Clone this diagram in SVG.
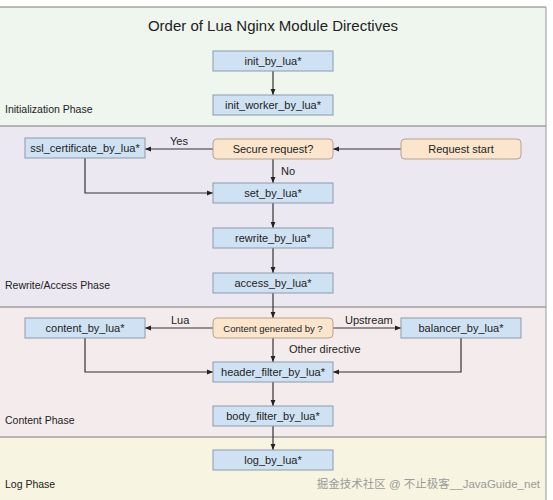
<svg xmlns="http://www.w3.org/2000/svg" width="553" height="500" viewBox="0 0 553 500">
<style>
text{font-family:"Liberation Sans",Arial,sans-serif;fill:#222}
.title{font-size:15px;text-anchor:middle}
.phase{font-size:10.5px}
.lbl{font-size:11px;text-anchor:middle}
.elbl{font-size:11px}
.box rect{fill:#cfe2f3;stroke:#8c9aab;stroke-width:1}
.dec rect{fill:#fce5cd;stroke:#b5a48e;stroke-width:1}
.conn{fill:none;stroke:#333;stroke-width:1.2}
.band{stroke:none}
</style>
<defs>
<marker id="ah" viewBox="0 0 10 10" refX="10" refY="5" markerWidth="6" markerHeight="6" orient="auto" markerUnits="userSpaceOnUse">
<path d="M0,1 L10,5 L0,9 z" fill="#222"/>
</marker>
</defs>
<rect x="0" y="0" width="553" height="500" fill="#ffffff"/>
<g id="bands">
<rect class="band" x="0" y="7" width="546" height="119" fill="#eef6ee"/>
<rect class="band" x="0" y="126" width="546" height="181" fill="#ece8f1"/>
<rect class="band" x="0" y="307" width="546" height="130" fill="#f4ecec"/>
<rect class="band" x="0" y="437" width="546" height="63" fill="#f7f4e2"/>
<g stroke="#7a7a7a" stroke-width="1.2">
<line x1="0" y1="7" x2="546" y2="7"/>
<line x1="0" y1="126" x2="546" y2="126"/>
<line x1="0" y1="307" x2="546" y2="307"/>
<line x1="0" y1="437" x2="546" y2="437"/>
</g>
<line x1="546" y1="7" x2="546" y2="500" stroke="#9a9a9a" stroke-width="1"/>
<text class="phase" x="5" y="113">Initialization Phase</text>
<text class="phase" x="5" y="289">Rewrite/Access Phase</text>
<text class="phase" x="5" y="424">Content Phase</text>
<text class="phase" x="5" y="488">Log Phase</text>
</g>
<text class="title" x="273" y="31">Order of Lua Nginx Module Directives</text>
<g id="connectors">
<path class="conn" d="M273,71 V95" marker-end="url(#ah)"/>
<path class="conn" d="M401,149 H333" marker-end="url(#ah)"/>
<path class="conn" d="M213,149 H145" marker-end="url(#ah)"/>
<path class="conn" d="M273,159 V183" marker-end="url(#ah)"/>
<path class="conn" d="M85,158 V193 H213" marker-end="url(#ah)"/>
<path class="conn" d="M273,203 V228" marker-end="url(#ah)"/>
<path class="conn" d="M273,248 V273" marker-end="url(#ah)"/>
<path class="conn" d="M273,293 V318" marker-end="url(#ah)"/>
<path class="conn" d="M213,328 H145" marker-end="url(#ah)"/>
<path class="conn" d="M333,328 H401" marker-end="url(#ah)"/>
<path class="conn" d="M273,338 V362" marker-end="url(#ah)"/>
<path class="conn" d="M85,338 V372 H213" marker-end="url(#ah)"/>
<path class="conn" d="M461,338 V372 H333" marker-end="url(#ah)"/>
<path class="conn" d="M273,382 V406" marker-end="url(#ah)"/>
<path class="conn" d="M273,426 V450" marker-end="url(#ah)"/>
<text class="elbl" x="170" y="145">Yes</text>
<text class="elbl" x="281" y="175">No</text>
<text class="elbl" x="171" y="324">Lua</text>
<text class="elbl" x="345" y="324">Upstream</text>
<text class="elbl" x="289" y="353">Other directive</text>
</g>
<g id="n_init" class="box"><rect x="213" y="51" width="120" height="20"/><text class="lbl" x="273" y="65">init_by_lua*</text></g>
<g id="n_init_worker" class="box"><rect x="213" y="95" width="120" height="20"/><text class="lbl" x="273" y="109">init_worker_by_lua*</text></g>
<g id="n_ssl" class="box"><rect x="25" y="138" width="120" height="20"/><text class="lbl" x="85" y="152">ssl_certificate_by_lua*</text></g>
<g id="n_secure" class="dec"><rect x="213" y="139" width="120" height="20" rx="4"/><text class="lbl" x="273" y="153">Secure request?</text></g>
<g id="n_start" class="dec"><rect x="401" y="139" width="120" height="20" rx="4"/><text class="lbl" x="461" y="153">Request start</text></g>
<g id="n_set" class="box"><rect x="213" y="183" width="120" height="20"/><text class="lbl" x="273" y="197">set_by_lua*</text></g>
<g id="n_rewrite" class="box"><rect x="213" y="228" width="120" height="20"/><text class="lbl" x="273" y="242">rewrite_by_lua*</text></g>
<g id="n_access" class="box"><rect x="213" y="273" width="120" height="20"/><text class="lbl" x="273" y="287">access_by_lua*</text></g>
<g id="n_content" class="box"><rect x="25" y="318" width="120" height="20"/><text class="lbl" x="85" y="332">content_by_lua*</text></g>
<g id="n_cgen" class="dec"><rect x="213" y="318" width="120" height="20" rx="4"/><text class="lbl" x="273" y="332" style="font-size:9.5px">Content generated by ?</text></g>
<g id="n_balancer" class="box"><rect x="401" y="318" width="120" height="20"/><text class="lbl" x="461" y="332">balancer_by_lua*</text></g>
<g id="n_header" class="box"><rect x="213" y="362" width="120" height="20"/><text class="lbl" x="273" y="376">header_filter_by_lua*</text></g>
<g id="n_body" class="box"><rect x="213" y="406" width="120" height="20"/><text class="lbl" x="273" y="420">body_filter_by_lua*</text></g>
<g id="n_log" class="box"><rect x="213" y="450" width="120" height="20"/><text class="lbl" x="273" y="464">log_by_lua*</text></g>
<text x="540" y="488" style="font-family:'Liberation Sans','Noto Sans CJK SC',sans-serif;font-size:11.5px;fill:#9a9a9a;text-anchor:end">掘金技术社区 @ 不止极客__JavaGuide_net</text>
</svg>
